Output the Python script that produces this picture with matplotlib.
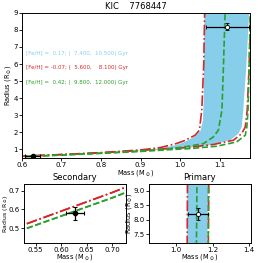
import numpy as np
import matplotlib
matplotlib.use("Agg")
import matplotlib.pyplot as plt

# isochrones: mass (Msun), radius (Rsun)
blue_old_m = [0.50, 0.60, 0.70, 0.80, 0.90, 0.95, 0.99, 1.01, 1.038, 1.052, 1.058, 1.060, 1.061, 1.062]
blue_old_r = [0.480, 0.578, 0.676, 0.785, 0.93, 1.05, 1.25, 1.42, 1.75, 2.10, 2.70, 4.00, 7.00, 10.0]
blue_yng_m = [0.50, 0.60, 0.70, 0.80, 0.90, 0.95, 1.017, 1.076, 1.127, 1.148, 1.156, 1.160, 1.168, 1.175, 1.177]
blue_yng_r = [0.480, 0.578, 0.676, 0.780, 0.90, 0.98, 1.08, 1.24, 1.53, 1.92, 2.31, 3.30, 6.00, 9.00, 10.0]

red_old_m = [0.50, 0.60, 0.70, 0.80, 0.90, 0.95, 0.99, 1.01, 1.038, 1.049, 1.055, 1.060, 1.063]
red_old_r = [0.492, 0.591, 0.690, 0.800, 0.96, 1.10, 1.33, 1.50, 1.82, 2.12, 3.30, 6.00, 10.0]
red_yng_m = [0.50, 0.60, 0.70, 0.80, 0.90, 0.95, 1.017, 1.084, 1.135, 1.156, 1.165, 1.170, 1.175, 1.180]
red_yng_r = [0.492, 0.591, 0.690, 0.795, 0.93, 1.01, 1.10, 1.28, 1.53, 1.92, 2.31, 3.30, 6.00, 10.0]

green_old_m = [0.50, 0.60, 0.70, 0.80, 0.90, 0.975, 1.008, 1.059, 1.084, 1.097, 1.106, 1.110, 1.114, 1.115]
green_old_r = [0.468, 0.565, 0.662, 0.770, 0.90, 1.04, 1.13, 1.33, 1.72, 2.12, 3.30, 6.00, 9.00, 10.0]
green_yng_m = [0.50, 0.60, 0.70, 0.80, 0.90, 0.975, 1.025, 1.093, 1.143, 1.165, 1.169, 1.172, 1.175, 1.178]
green_yng_r = [0.468, 0.565, 0.662, 0.765, 0.87, 0.98, 1.04, 1.18, 1.43, 1.82, 2.31, 3.30, 6.00, 10.0]

labels = ["[Fe/H] =  0.17; (  7.400,  10.500) Gyr",
          "[Fe/H] = -0.07; (  5.600,    8.100) Gyr",
          "[Fe/H] =  0.42; (  9.800,  12.000) Gyr"]
colors = ["skyblue", "tab:red", "tab:green"]

# stars: mass, mass err, radius, radius err
prim = [1.12, 0.055, 8.20, 0.20]
sec = [0.627, 0.018, 0.579, 0.036]

fig = plt.figure(figsize=(2.58, 2.63), dpi=100)
ax = fig.add_axes([0.085, 0.400, 0.884, 0.551])
ax2 = fig.add_axes([0.093, 0.077, 0.395, 0.223])
ax3 = fig.add_axes([0.576, 0.077, 0.397, 0.223])

fs = 5
for a in (ax, ax2, ax3):
    a.fill(np.concatenate([blue_old_m, blue_yng_m[::-1]]),
           np.concatenate([blue_old_r, blue_yng_r[::-1]]),
           color="skyblue", lw=0)
    a.plot(red_old_m, red_old_r, color="tab:red", ls="-.", lw=1.2)
    a.plot(red_yng_m, red_yng_r, color="tab:red", ls="-.", lw=1.2)
    a.plot(green_old_m, green_old_r, color="tab:green", ls="--", lw=1.2)
    a.plot(green_yng_m, green_yng_r, color="tab:green", ls="--", lw=1.2)
    a.errorbar(prim[0], prim[2], xerr=prim[1], yerr=prim[3], fmt="o", ms=3,
               mfc="white", mec="black", ecolor="black", elinewidth=0.9,
               capsize=1.5, capthick=0.8, mew=0.6)
    a.errorbar(sec[0], sec[2], xerr=sec[1], yerr=sec[3], fmt="o", ms=3,
               color="black", ecolor="black", elinewidth=0.9,
               capsize=1.5, capthick=0.8)
    a.tick_params(labelsize=fs, length=2, width=0.6, pad=1)
    a.set_xlabel("Mass (M$_\\odot$)", fontsize=4.8)
    a.set_ylabel("Radius (R$_\\odot$)", fontsize=4.8)
    for s in a.spines.values():
        s.set_linewidth(0.7)

ax.set_xlim(0.6, 1.177)
ax.set_ylim(0.5, 9.0)
ax.set_xticks([0.6, 0.7, 0.8, 0.9, 1.0, 1.1])
ax.set_yticks(range(1, 10))
ax.set_title("KIC    7768447", fontsize=6, pad=3)
ax.xaxis.set_label_coords(0.5, -0.068)
ax.yaxis.set_label_coords(-0.04, 0.5)
for i, (lab, c) in enumerate(zip(labels, colors)):
    ax.text(0.02, 0.72 - i * 0.10, lab, color=c, fontsize=4.0,
            transform=ax.transAxes, va="center")

ax2.set_xlim(sec[0] - 0.1, sec[0] + 0.1)
ax2.set_ylim(0.423, 0.735)
ax2.set_xticks([0.55, 0.60, 0.65, 0.70])
ax2.set_yticks([0.5, 0.6, 0.7])
ax2.set_title("Secondary", fontsize=6, pad=3)
ax2.xaxis.set_label_coords(0.5, -0.16)
ax2.set_ylabel("Radius (R$_\\odot$)", fontsize=4.4)
ax2.yaxis.set_label_coords(-0.137, 0.5)

ax3.set_xlim(0.85, 1.41)
ax3.set_ylim(7.2, 9.23)
ax3.set_xticks([1.0, 1.2, 1.4])
ax3.set_yticks([7.5, 8.0, 8.5, 9.0])
ax3.set_title("Primary", fontsize=6, pad=3)
ax3.xaxis.set_label_coords(0.5, -0.16)
ax3.yaxis.set_label_coords(-0.14, 0.5)

fig.savefig("out.png", dpi=100)
